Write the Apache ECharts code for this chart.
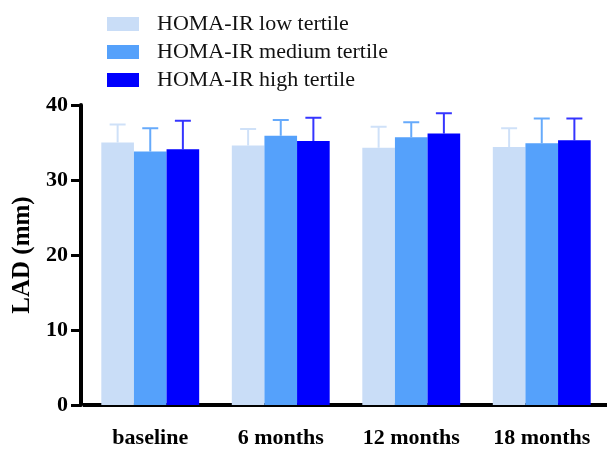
<!DOCTYPE html>
<html>
  <head>
    <meta charset="utf-8">
    <script src="https://cdn.jsdelivr.net/npm/echarts@6/dist/echarts.min.js"></script>
    <style>
      html, body { margin: 0; padding: 0; background: #fff; }
    </style>
  </head>
  <body>
    <div class="chart" style="width:607px;height:449px;"></div>
    <script>
      var categories = ['baseline', '6 months', '12 months', '18 months'];
      var groupNames = ['HOMA-IR low tertile', 'HOMA-IR medium tertile', 'HOMA-IR high tertile'];
      var lowMean = [35.0, 34.6, 34.3, 34.4];
      var lowSD = [2.4, 2.2, 2.8, 2.5];
      var mediumMean = [33.8, 35.9, 35.7, 34.9];
      var mediumSD = [3.1, 2.1, 2.0, 3.3];
      var highMean = [34.1, 35.2, 36.2, 35.3];
      var highSD = [3.8, 3.1, 2.7, 2.9];
      var yTicks = [0, 10, 20, 30, 40];

      var colors = ['#c9ddf7', '#55a1fb', '#0000fe'];
      var errColors = ['#cfe1f8', '#66aafb', '#3535ff'];
      var means = [lowMean, mediumMean, highMean];
      var sds = [lowSD, mediumSD, highSD];
      var serif = '"Liberation Serif", "Times New Roman", serif';

      var series = [];
      groupNames.forEach(function (name, i) {
        series.push({
          name: name,
          type: 'bar',
          barWidth: '25%',
          barGap: '0%',
          itemStyle: { color: colors[i] },
          data: means[i]
        });
      });
      // upward-only error bars (mean + SD)
      groupNames.forEach(function (name, i) {
        var data = means[i].map(function (m, k) { return [k, m, m + sds[i][k]]; });
        series.push({
          type: 'custom',
          name: name + ' err',
          z: 1,
          data: data,
          renderItem: function (params, api) {
            var band = api.size([1, 0])[0];
            var off = (i - 1) * band * 0.25;
            var base = api.coord([api.value(0), api.value(1)]);
            var top = api.coord([api.value(0), api.value(2)]);
            var x = base[0] + off;
            var half = 8;
            var style = { stroke: errColors[i], lineWidth: 2 };
            return {
              type: 'group',
              children: [
                { type: 'line', shape: { x1: x, y1: base[1], x2: x, y2: top[1] }, style: style },
                { type: 'line', shape: { x1: x - half, y1: top[1], x2: x + half, y2: top[1] }, style: style }
              ]
            };
          }
        });
      });

      var chart = echarts.init(document.getElementsByClassName('chart')[0], null, { renderer: 'canvas' });
      chart.setOption({
        animation: false,
        legend: {
          data: groupNames,
          orient: 'vertical',
          left: 102,
          top: 8,
          itemWidth: 32,
          itemHeight: 14,
          itemGap: 6,
          icon: 'rect',
          textStyle: { fontFamily: serif, fontSize: 22, color: '#111', padding: [0, 0, 0, 13] }
        },
        grid: { left: 85, right: -3, top: 105, bottom: 42 },
        xAxis: {
          type: 'category',
          data: categories,
          axisLine: { lineStyle: { color: '#000', width: 4, cap: 'square' } },
          axisTick: { alignWithLabel: true, length: 10, lineStyle: { color: '#000', width: 3 } },
          axisLabel: { margin: 22, fontFamily: serif, fontWeight: 'bold', fontSize: 22, color: '#000' }
        },
        yAxis: {
          type: 'value',
          min: 0,
          max: 40,
          interval: 10,
          offset: 4,
          name: 'LAD (mm)',
          nameLocation: 'middle',
          nameGap: 45,
          nameTextStyle: { fontFamily: serif, fontWeight: 'bold', fontSize: 25, color: '#000' },
          axisLine: { show: true, lineStyle: { color: '#000', width: 4 } },
          axisTick: { show: true, length: 10, lineStyle: { color: '#000', width: 3 } },
          axisLabel: {
            margin: 13,
            fontFamily: serif, fontWeight: 'bold', fontSize: 22, color: '#000',
            formatter: function (v) { return yTicks.indexOf(v) >= 0 ? String(v) : ''; }
          },
          splitLine: { show: false }
        },
        series: series
      });
    </script>
  </body>
</html>
